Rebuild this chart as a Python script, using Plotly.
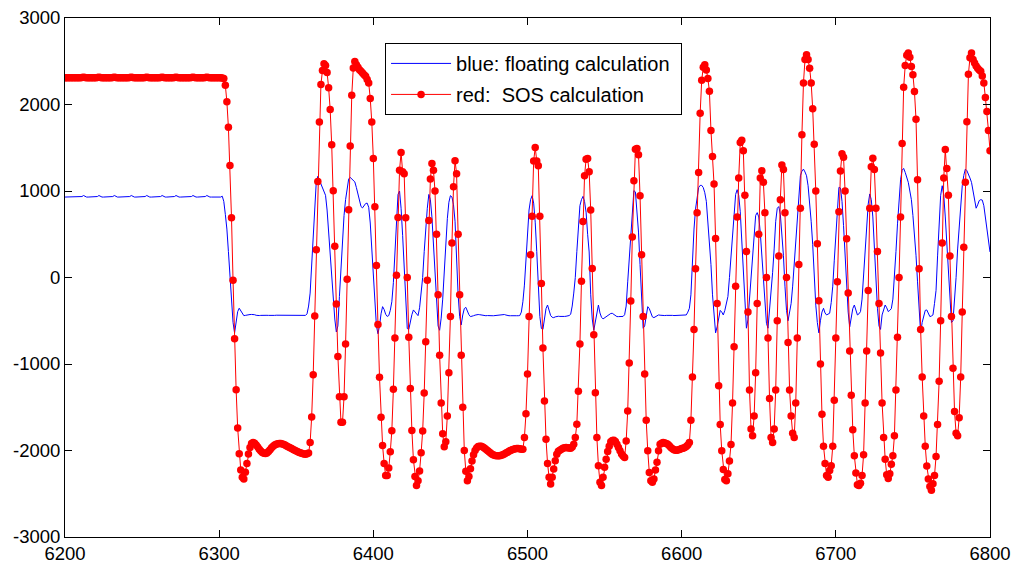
import plotly.graph_objects as go

# sample index on the x axis
sample_idx = list(range(6200, 6801))

# red: SOS calculation (one value per sample, 6200..6800)
sos_vals = [
    2310, 2310, 2310, 2310, 2310, 2310, 2310, 2310, 2310, 2310,  # 6200
    2310, 2312, 2314, 2312, 2310, 2310, 2310, 2310, 2310, 2310,  # 6210
    2310, 2312, 2314, 2312, 2310, 2310, 2310, 2310, 2310, 2310,  # 6220
    2310, 2312, 2314, 2312, 2310, 2310, 2310, 2310, 2310, 2310,  # 6230
    2310, 2310, 2312, 2314, 2312, 2310, 2310, 2310, 2310, 2310,  # 6240
    2310, 2310, 2312, 2314, 2312, 2310, 2310, 2310, 2310, 2310,  # 6250
    2310, 2310, 2312, 2314, 2312, 2310, 2310, 2310, 2310, 2310,  # 6260
    2310, 2312, 2314, 2312, 2310, 2310, 2310, 2310, 2310, 2310,  # 6270
    2310, 2310, 2312, 2314, 2312, 2310, 2310, 2310, 2310, 2310,  # 6280
    2310, 2312, 2314, 2312, 2310, 2310, 2310, 2310, 2310, 2310,  # 6290
    2310, 2310, 2305, 2300, 2222, 2031, 1736, 1295, 690, -31,  # 6300
    -709, -1299, -1739, -2038, -2226, -2310, -2330, -2250, -2150, -2040,  # 6310
    -1965, -1920, -1908, -1915, -1935, -1960, -1985, -2005, -2022, -2032,  # 6320
    -2034, -2028, -2012, -1990, -1968, -1950, -1936, -1927, -1921, -1919,  # 6330
    -1920, -1925, -1932, -1940, -1950, -1960, -1968, -1978, -1988, -1996,  # 6340
    -2005, -2014, -2022, -2030, -2036, -2040, -2042, -2038, -2030, -1908,  # 6350
    -1613, -1123, -445, 322, 1111, 1797, 2230, 2394, 2471, 2450,  # 6360
    2370, 2195, 1943, 1534, 1004, 360, -307, -912, -1379, -1674,  # 6370
    -1674, -1379, -770, -20, 782, 1521, 2107, 2421, 2498, 2460,  # 6380
    2430, 2402, 2385, 2365, 2345, 2326, 2290, 2249, 2069, 1797,  # 6390
    1375, 818, 140, -542, -1153, -1617, -1943, -2150, -2289, -2289,  # 6400
    -2203, -2015, -1773, -1293, -700, 27, 693, 1241, 1444, 1222,  # 6410
    1200, 690, 0, -690, -1284, -1770, -2108, -2300, -2404, -2350,  # 6420
    -2236, -2025, -1776, -1336, -742, -33, 658, 1138, 1318, 1240,  # 6430
    1000, 500, -200, -900, -1450, -1805, -1958, -1900, -1600, -1100,  # 6440
    -450, 400, 1050, 1351, 1200, 500, -200, -900, -1500, -2000,  # 6450
    -2240, -2350, -2300, -2210, -2120, -2050, -2000, -1970, -1955, -1950,  # 6460
    -1952, -1960, -1972, -1985, -2000, -2015, -2030, -2042, -2052, -2058,  # 6470
    -2062, -2062, -2060, -2055, -2048, -2040, -2030, -2020, -2010, -2000,  # 6480
    -1992, -1985, -1980, -1978, -1978, -1980, -1985, -1985, -1851, -1575,  # 6490
    -1115, -452, 264, 709, 1348, 1502, 1348, 1291, 709, -69,  # 6500
    -816, -1429, -1870, -2149, -2310, -2387, -2310, -2215, -2119, -2042,  # 6510
    -2010, -1996, -1985, -1973, -1968, -1966, -1968, -1970, -1973, -1960,  # 6520
    -1927, -1851, -1697, -1314, -770, -42, 647, 1176, 1367, 1375,  # 6530
    1222, 781, 103, -663, -1333, -1851, -2176, -2368, -2406, -2310,  # 6540
    -2195, -2100, -2012, -1950, -1900, -1885, -1881, -1895, -1927, -1965,  # 6550
    -2004, -2040, -2065, -2080, -1889, -1544, -989, -272, 467, 1118,  # 6560
    1482, 1490, 1420, 946, 264, -452, -1115, -1651, -2004, -2253,  # 6570
    -2349, -2367, -2329, -2226, -2137, -2003, -1927, -1915, -1908, -1912,  # 6580
    -1920, -1927, -1945, -1965, -1980, -1990, -1996, -1996, -1992, -1985,  # 6590
    -1978, -1973, -1965, -1955, -1935, -1908, -1650, -1150, -600, 100,  # 6600
    750, 1215, 1900, 2280, 2430, 2460, 2400, 2300, 2153, 1700,  # 6610
    1400, 1080, 450, -300, -1250, -1700, -2003, -2220, -2335, -2350,  # 6620
    -2270, -2120, -1930, -1450, -800, -100, 700, 1150, 1560, 1586,  # 6630
    1464, 950, 300, -400, -1300, -1750, -1830, -1600, -1100, -300,  # 6640
    500, 1150, 1234, 1100, 750, 0, -700, -1400, -1850, -1908,  # 6650
    -1750, -1300, -500, 250, 900, 1300, 1250, 750, 0, -750,  # 6660
    -1300, -1600, -1800, -1850, -1450, -700, 150, 800, 1650, 2250,  # 6670
    2520, 2575, 2520, 2420, 2250, 1950, 1540, 1000, 390, -270,  # 6680
    -1000, -1580, -1950, -2150, -2290, -2310, -2230, -2175, -1950, -1420,  # 6690
    -700, -50, 760, 1230, 1430, 1390, 1000, 448, -180, -850,  # 6700
    -1360, -1760, -2060, -2260, -2395, -2405, -2380, -2290, -2050, -1450,  # 6710
    -850, -150, 800, 1280, 1380, 1250, 800, 300, -300, -873,  # 6720
    -1450, -1850, -2100, -2280, -2325, -2270, -2160, -2060, -1830, -1300,  # 6730
    -690, 0, 700, 1550, 2200, 2450, 2570, 2594, 2545, 2440,  # 6740
    2345, 2150, 1830, 1130, 100, -600, -1150, -1600, -1950, -2180,  # 6750
    -2330, -2417, -2460, -2385, -2290, -2070, -1700, -1200, -500, 400,  # 6760
    1150, 1480, 1260, 950, 250, -450, -1050, -1550, -1800, -1830,  # 6770
    -1620, -1150, -400, 350, 1100, 1800, 2350, 2540, 2594, 2520,  # 6780
    2480, 2445, 2420, 2400, 2385, 2330, 2250, 2080, 1920, 1700,  # 6790
    1464,  # 6800
]

# blue: floating calculation
float_vals = [
    930, 930, 930, 930, 930, 930, 930, 930, 930, 930,  # 6200
    930, 936, 948, 936, 930, 930, 930, 930, 930, 930,  # 6210
    930, 936, 948, 936, 930, 930, 930, 930, 930, 930,  # 6220
    930, 936, 948, 936, 930, 930, 930, 930, 930, 930,  # 6230
    930, 930, 936, 948, 936, 930, 930, 930, 930, 930,  # 6240
    930, 930, 936, 948, 936, 930, 930, 930, 930, 930,  # 6250
    930, 930, 936, 948, 936, 930, 930, 930, 930, 930,  # 6260
    930, 936, 948, 936, 930, 930, 930, 930, 930, 930,  # 6270
    930, 930, 936, 948, 936, 930, 930, 930, 930, 930,  # 6280
    930, 936, 948, 936, 930, 930, 930, 930, 930, 930,  # 6290
    930, 930, 940, 880, 730, 560, 300, 0, -260, -520,  # 6300
    -640, -540, -395, -355, -385, -425, -441, -438, -432, -430,  # 6310
    -428, -427, -425, -430, -437, -441, -440, -438, -436, -436,  # 6320
    -436, -437, -438, -440, -440, -440, -438, -436, -436, -438,  # 6330
    -440, -441, -440, -438, -436, -436, -437, -440, -442, -442,  # 6340
    -440, -438, -437, -440, -442, -441, -438, -420, -330, -180,  # 6350
    140, 520, 880, 1110, 1170, 1130, 1085, 1040, 1004, 950,  # 6360
    780, 520, 300, 40, -220, -480, -630, -560, -220, 150,  # 6370
    450, 717, 900, 1040, 1138, 1157, 1140, 1119, 1105, 1040,  # 6380
    960, 880, 820, 805, 825, 855, 860, 812, 630, 300,  # 6390
    0, -300, -560, -650, -560, -420, -337, -370, -425, -450,  # 6400
    -440, -380, -280, -60, 257, 600, 960, 1000, 800, 487,  # 6410
    150, -250, -590, -600, -500, -430, -375, -400, -425, -441,  # 6420
    -350, -200, 0, 300, 580, 800, 960, 900, 700, 350,  # 6430
    0, -330, -560, -610, -470, -250, 100, 420, 680, 870,  # 6440
    946, 930, 840, 650, 180, -200, -450, -548, -433, -360,  # 6450
    -345, -394, -430, -452, -450, -442, -435, -430, -428, -430,  # 6460
    -435, -440, -442, -442, -440, -438, -440, -442, -442, -440,  # 6470
    -438, -436, -432, -428, -425, -428, -434, -440, -442, -442,  # 6480
    -440, -438, -440, -442, -442, -440, -400, -280, -88, 200,  # 6490
    560, 780, 900, 946, 860, 640, 300, -165, -450, -590,  # 6500
    -600, -480, -360, -318, -380, -440, -460, -464, -455, -450,  # 6510
    -448, -450, -452, -452, -450, -448, -446, -440, -425, -330,  # 6520
    -180, 0, 300, 600, 831, 900, 938, 880, 755, 500,  # 6530
    295, -200, -480, -610, -500, -400, -318, -410, -460, -479,  # 6540
    -465, -450, -433, -422, -416, -414, -425, -440, -452, -452,  # 6550
    -452, -452, -450, -430, -330, -50, 218, 560, 840, 1004,  # 6560
    990, 800, 525, 150, -300, -586, -560, -470, -337, -360,  # 6570
    -400, -455, -464, -455, -445, -433, -436, -440, -442, -440,  # 6580
    -438, -436, -435, -436, -438, -440, -440, -438, -436, -434,  # 6590
    -432, -433, -433, -433, -400, -356, -200, 200, 560, 793,  # 6600
    950, 1040, 1065, 1065, 1040, 980, 880, 650, 400, 150,  # 6610
    -200, -433, -640, -570, -480, -380, -400, -433, -380, -300,  # 6620
    -220, 0, 257, 530, 793, 960, 1015, 950, 760, 450,  # 6630
    100, -250, -586, -490, -250, 30, 260, 550, 717, 750,  # 6640
    700, 520, 230, -50, -380, -530, -586, -400, -150, 60,  # 6650
    330, 650, 800, 820, 730, 500, 257, -100, -380, -500,  # 6660
    -420, -300, -100, 150, 410, 750, 1000, 1176, 1230, 1253,  # 6670
    1220, 1176, 1061, 870, 650, 380, -50, -320, -520, -640,  # 6680
    -500, -400, -356, -410, -433, -425, -413, -290, -100, 200,  # 6690
    500, 850, 1042, 1035, 880, 600, 250, -50, -400, -570,  # 6700
    -450, -360, -318, -380, -433, -420, -394, -250, 20, 257,  # 6710
    560, 850, 966, 900, 700, 320, -50, -356, -560, -600,  # 6720
    -433, -360, -318, -350, -394, -380, -360, -250, -20, 300,  # 6730
    620, 920, 1130, 1240, 1261, 1215, 1160, 1100, 1000, 900,  # 6740
    717, 500, 257, -50, -400, -643, -520, -430, -380, -375,  # 6750
    -420, -452, -445, -433, -300, -150, 250, 650, 950, 1061,  # 6760
    950, 700, 372, 80, -203, -520, -500, -279, 0, 330,  # 6770
    620, 850, 1061, 1180, 1253, 1235, 1200, 1150, 1100, 1000,  # 6780
    908, 801, 840, 889, 900, 895, 830, 700, 563, 430,  # 6790
    295,  # 6800
]

assert len(sos_vals) == len(sample_idx), (len(sos_vals), len(sample_idx))
assert len(float_vals) == len(sample_idx), (len(float_vals), len(sample_idx))

x_ticks = [6200, 6300, 6400, 6500, 6600, 6700, 6800]
y_ticks = [-3000, -2000, -1000, 0, 1000, 2000, 3000]
y_labels = ["-3000", "-2000", "-1000", "0", "1000", "2000", "3000"]

fig = go.Figure()
fig.add_trace(go.Scatter(x=sample_idx, y=float_vals, mode="lines",
                         name="blue: floating calculation\u00a0", legendgroup="a",
                         line=dict(color="#0000ff", width=1)))
fig.add_trace(go.Scatter(x=sample_idx, y=sos_vals, mode="lines+markers",
                         name="red:  SOS calculation", legendgroup="b",
                         line=dict(color="#ff0000", width=1),
                         marker=dict(color="#ff0000", size=7.5)))

axis_style = dict(showline=True, linecolor="black", linewidth=1, mirror="ticks",
                  ticks="inside", ticklen=7, tickcolor="black",
                  showgrid=False, zeroline=False, automargin=False,
                  tickfont=dict(size=18.5))
fig.update_xaxes(range=[6200, 6800], tickvals=x_ticks, **axis_style)
fig.update_yaxes(range=[-3000, 3000], tickvals=y_ticks, ticktext=y_labels, **axis_style)

fig.update_layout(
    width=1018, height=570,
    margin=dict(l=65, r=28, t=18, b=33),
    plot_bgcolor="white", paper_bgcolor="white",
    font=dict(family="Arial, Liberation Sans, sans-serif", size=19, color="black"),
    legend=dict(x=0.346, y=0.952, xanchor="left", yanchor="top",
                bordercolor="black", borderwidth=1, bgcolor="white",
                itemwidth=60, tracegroupgap=2, font=dict(size=20)),
)

# the page's default body margin would push the figure 8px off the window
fig.write_html("out.html", config={"displayModeBar": False},
               post_script="document.body.style.margin='0';")
